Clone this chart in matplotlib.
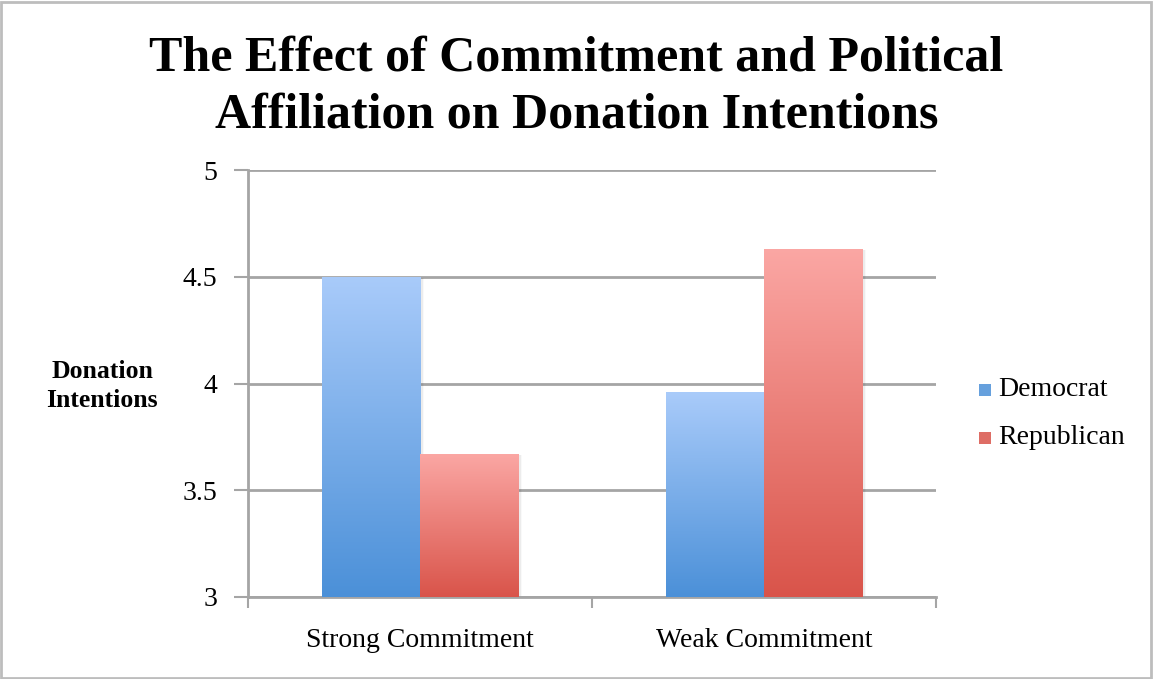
import numpy as np
import matplotlib
matplotlib.use("Agg")
import matplotlib.pyplot as plt
from matplotlib.colors import LinearSegmentedColormap
from matplotlib.patches import Rectangle

categories = ["Strong Commitment", "Weak Commitment"]
series = ["Democrat", "Republican"]
democrat = [4.50, 3.96]
republican = [3.67, 4.63]
yticks = [3, 3.5, 4, 4.5, 5]
ytick_labels = ["3", "3.5", "4", "4.5", "5"]

# top / bottom colours of each gradient fill
blue_grad = ["#a9cbfa", "#4b90d8"]
red_grad = ["#fba7a4", "#d9544a"]

plt.rcParams["font.family"] = ["Liberation Serif", "DejaVu Serif"]

fig = plt.figure(figsize=(11.53, 6.79), dpi=100)
ax = fig.add_axes([248 / 1153, 1 - 597 / 679, (936 - 248) / 1153, (597 - 170) / 679])

x = np.arange(len(categories))
w = 0.285


def grad_bars(xpos, vals, cols):
    cmap = LinearSegmentedColormap.from_list("g", cols[::-1])
    grad = np.linspace(0, 1, 256).reshape(-1, 1)
    bars = ax.bar(xpos, [v - 3 for v in vals], width=w, bottom=3, align="center",
                  color=cols[1], edgecolor="none", zorder=3)
    for b, v in zip(bars, vals):
        x0 = b.get_x()
        # soft shadow to the right of the bar
        for k, a in enumerate([0.08, 0.05, 0.025]):
            ax.add_patch(Rectangle((x0 + w, 3), 0.004 * (k + 1), v - 3 - 0.005,
                                   color="black", alpha=a, lw=0, zorder=2))
        im = ax.imshow(grad, cmap=cmap, aspect="auto", origin="lower",
                       extent=[x0, x0 + w, 3, v], zorder=3.5)
        im.set_clip_path(b)
    return bars


grad_bars(x - w / 2, democrat, blue_grad)
grad_bars(x + w / 2, republican, red_grad)
ax.set_xlim(-0.5, 1.5)
ax.set_ylim(3, 5)
ax.set_aspect("auto")

grid_col = "#a5a5a5"
ax.set_yticks(yticks)
ax.set_yticklabels(ytick_labels, fontsize=20)
ax.yaxis.grid(True, color=grid_col, linewidth=2, zorder=1)
ax.set_axisbelow(True)
ax.set_xticks([-0.5, 0.5, 1.5])
ax.set_xticklabels([])
ax.set_xticks(x, minor=True)
ax.set_xticklabels(categories, minor=True, fontsize=20)
ax.tick_params(axis="x", which="minor", length=0, pad=22)
ax.tick_params(axis="x", which="major", length=8, width=1.5, color=grid_col)
ax.tick_params(axis="y", length=10, width=1.5, color=grid_col, pad=12)

for s in ["top", "right"]:
    ax.spines[s].set_visible(False)
for s in ["left", "bottom"]:
    ax.spines[s].set_color(grid_col)
    ax.spines[s].set_linewidth(2)

fig.text(102 / 1153, 1 - 386 / 679, "Donation\nIntentions", ha="center", va="center",
         fontsize=18.5, fontweight="bold", linespacing=1.3)

fig.text(0.5, 1 - 87 / 679, "The Effect of Commitment and Political\nAffiliation on Donation Intentions",
         ha="center", va="center", fontsize=36, fontweight="bold", linespacing=1.33)

# legend
for i, (name, cols) in enumerate(zip(series, [blue_grad, red_grad])):
    yy = 1 - (389 + 48 * i) / 679
    fig.patches.append(Rectangle((979 / 1153, yy - 7 / 679), 12 / 1153, 12 / 679,
                                 transform=fig.transFigure, color=cols[1], alpha=0.85, lw=0))
    fig.text(998 / 1153, yy, name, ha="left", va="center", fontsize=20)

# border round the whole figure
fig.patches.append(Rectangle((0.001, 0.001), 0.997, 0.996, transform=fig.transFigure,
                             fill=False, edgecolor="#bdbdbd", lw=2))

fig.savefig("out.png", dpi=100, facecolor="white")
